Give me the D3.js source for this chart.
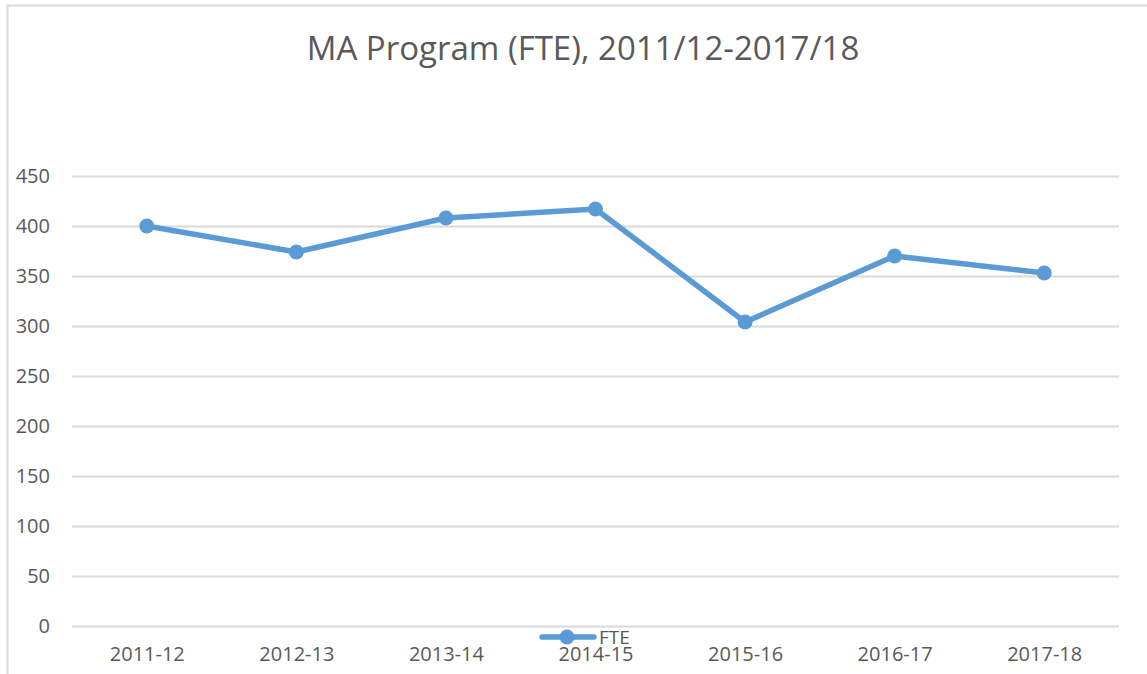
<!DOCTYPE html>
<html>
<head>
<meta charset="utf-8">
<script src="https://cdn.jsdelivr.net/npm/d3@7"></script>
<style>
  body { margin: 0; background: #fff; }
  svg { display: block; font-family: "Open Sans", "Liberation Sans", sans-serif; }
</style>
</head>
<body>
<div id="chart"></div>
<script>
var years = ["2011-12", "2012-13", "2013-14", "2014-15", "2015-16", "2016-17", "2017-18"];
var fte = [400, 374, 408, 417, 304, 370, 353];
var yTicks = [0, 50, 100, 150, 200, 250, 300, 350, 400, 450];

var width = 1147, height = 674;
var plotLeft = 72, plotRight = 1119, plotTop = 176, plotBottom = 626;
var blue = "#5b9bd5", grey = "#595959";

var svg = d3.select("#chart").append("svg")
    .attr("width", width)
    .attr("height", height);

// chart frame (only top and left are visible in the crop)
svg.append("path")
    .attr("d", "M7.5," + height + "V5.5H" + width)
    .attr("fill", "none")
    .attr("stroke", "#d9d9d9")
    .attr("stroke-width", 2);

var x = d3.scalePoint()
    .domain(years)
    .range([plotLeft, plotRight])
    .padding(0.5);

var y = d3.scaleLinear()
    .domain([0, 450])
    .range([plotBottom, plotTop]);

// gridlines + y labels
var yAxis = svg.append("g")
    .attr("transform", "translate(" + plotLeft + ",0)")
    .call(d3.axisLeft(y).tickValues(yTicks).tickSize(-(plotRight - plotLeft)).tickPadding(22));
yAxis.select(".domain").remove();
yAxis.selectAll(".tick line").attr("stroke", "#d9d9d9").attr("stroke-width", 2);
yAxis.selectAll(".tick text")
    .attr("fill", grey)
    .attr("font-size", "20px")
    .attr("font-family", "Open Sans, sans-serif");

// x labels
var xAxis = svg.append("g")
    .attr("transform", "translate(0," + plotBottom + ")")
    .call(d3.axisBottom(x).tickSize(0).tickPadding(21));
xAxis.select(".domain").remove();
xAxis.selectAll(".tick text")
    .attr("fill", grey)
    .attr("font-size", "20px")
    .attr("font-family", "Open Sans, sans-serif");

// line
var line = d3.line()
    .x(function(d, i) { return x(years[i]); })
    .y(function(d) { return y(d); });

svg.append("path")
    .datum(fte)
    .attr("d", line)
    .attr("fill", "none")
    .attr("stroke", blue)
    .attr("stroke-width", 5.5)
    .attr("stroke-linejoin", "round");

svg.selectAll(".dot")
    .data(fte)
    .enter().append("circle")
    .attr("class", "dot")
    .attr("cx", function(d, i) { return x(years[i]); })
    .attr("cy", function(d) { return y(d); })
    .attr("r", 7.5)
    .attr("fill", blue);

// title
svg.append("text")
    .attr("x", 583)
    .attr("y", 60)
    .attr("text-anchor", "middle")
    .attr("font-size", "33px")
    .attr("fill", grey)
    .text("MA Program (FTE), 2011/12-2017/18");

// legend
var legend = svg.append("g").attr("transform", "translate(540,637)");
legend.append("line")
    .attr("x1", 2).attr("x2", 54)
    .attr("stroke", blue)
    .attr("stroke-width", 5.5)
    .attr("stroke-linecap", "round");
legend.append("circle")
    .attr("cx", 27)
    .attr("r", 7.5)
    .attr("fill", blue);
legend.append("text")
    .attr("x", 59)
    .attr("y", 7)
    .attr("font-size", "19px")
    .attr("fill", grey)
    .text("FTE");
</script>
</body>
</html>
